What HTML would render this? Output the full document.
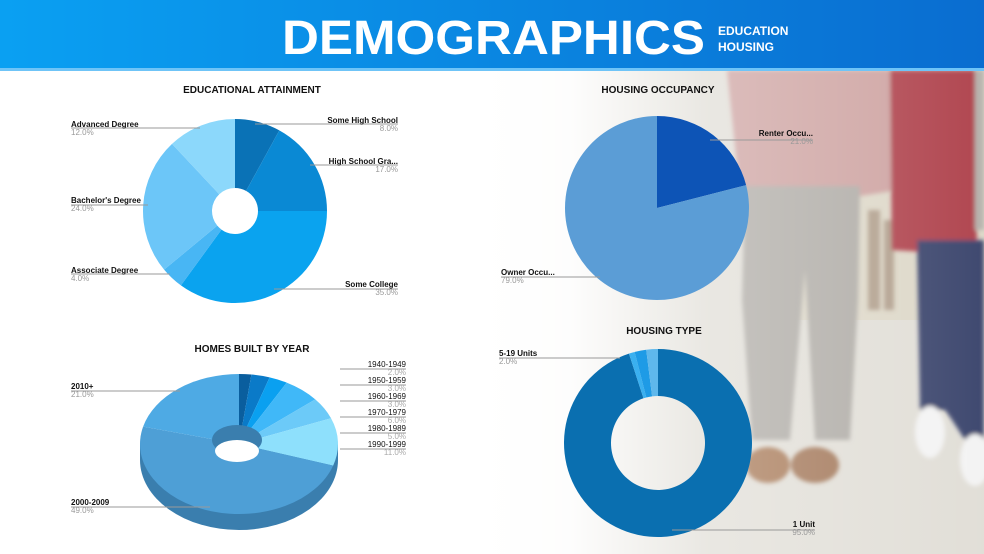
<!DOCTYPE html>
<html><head><meta charset="utf-8"><style>
html,body{margin:0;padding:0;}
body{width:984px;height:554px;overflow:hidden;position:relative;background:#fff;font-family:"Liberation Sans",sans-serif;}
svg{position:absolute;left:0;top:0;}
</style></head><body>
<svg width="984" height="554" viewBox="0 0 984 554" xmlns="http://www.w3.org/2000/svg">
<defs>
<linearGradient id="hdr" x1="0" x2="1" y1="0" y2="0"><stop offset="0" stop-color="#0aa0f2"/><stop offset="1" stop-color="#0a6dd0"/></linearGradient>
<linearGradient id="fade" x1="0" x2="1" y1="0" y2="0">
<stop offset="0" stop-color="#fff" stop-opacity="1"/><stop offset="0.18" stop-color="#fff" stop-opacity="0.95"/><stop offset="0.45" stop-color="#fff" stop-opacity="0.35"/><stop offset="1" stop-color="#fff" stop-opacity="0.1"/></linearGradient>
<filter id="bl"><feGaussianBlur stdDeviation="2"/></filter>
</defs>
<rect x="480" y="70" width="504" height="484" fill="#dedbd3"/>
<rect x="780" y="70" width="204" height="250" fill="#d8d2bc" opacity="0.7"/>
<g filter="url(#bl)">
<rect x="868" y="210" width="12" height="100" fill="#7a5a40" opacity="0.5"/>
<rect x="884" y="220" width="10" height="90" fill="#7a5a40" opacity="0.5"/>
<path d="M727,70 L900,70 L898,190 L860,196 L855,190 L740,195 Z" fill="#c99a98"/>
<path d="M745,186 L860,186 L858,300 L850,440 L815,440 L805,270 L790,440 L752,440 L742,300 Z" fill="#a8a49e"/>
<ellipse cx="768" cy="465" rx="22" ry="18" fill="#a06e4a"/>
<ellipse cx="815" cy="465" rx="24" ry="18" fill="#9a6a48"/>
<path d="M890,70 L975,70 L977,255 L892,250 Z" fill="#a8323e"/>
<path d="M917,240 L984,240 L984,440 L965,440 L952,420 L945,410 L920,410 Z" fill="#2a3560"/>
<ellipse cx="930" cy="432" rx="15" ry="26" fill="#f2f2f2"/>
<ellipse cx="975" cy="460" rx="15" ry="26" fill="#f2f2f2"/>
<rect x="975" y="70" width="9" height="160" fill="#b0aca6"/>
</g>
<rect x="480" y="70" width="504" height="484" fill="url(#fade)"/>
<rect x="0" y="0" width="984" height="70" fill="url(#hdr)"/>
<rect x="0" y="68" width="984" height="3" fill="#6fc4f7"/>
<text x="282" y="54" font-size="48" font-weight="bold" fill="#fff" textLength="423" lengthAdjust="spacingAndGlyphs">DEMOGRAPHICS</text>
<text x="718" y="35" font-size="12" font-weight="bold" fill="#fff">EDUCATION</text>
<text x="718" y="51" font-size="12" font-weight="bold" fill="#fff">HOUSING</text>
<g id="charts"></g>
<g font-size="10" font-weight="bold" fill="#111" text-anchor="middle">
<text x="252" y="93">EDUCATIONAL ATTAINMENT</text>
<text x="658" y="93">HOUSING OCCUPANCY</text>
<text x="252" y="352">HOMES BUILT BY YEAR</text>
<text x="664" y="334">HOUSING TYPE</text>
</g>
<g id="labels" font-size="8"></g>
</svg>
<script>
const NS="http://www.w3.org/2000/svg";
const G=document.getElementById('charts'),L=document.getElementById('labels');
function el(t,a,p){const e=document.createElementNS(NS,t);for(const k in a)e.setAttribute(k,a[k]);(p||G).appendChild(e);return e;}
function pt(cx,cy,rx,ry,a){return [cx+rx*Math.sin(a),cy-ry*Math.cos(a)];}
function donut(cx,cy,rx,ry,ir,iry,data){
 let a=0;const T=2*Math.PI;
 data.forEach(d=>{const b=a+d[0]/100*T;const lg=(b-a)>Math.PI?1:0;
  const p1=pt(cx,cy,rx,ry,a),p2=pt(cx,cy,rx,ry,b);
  let path=`M${p1} A${rx},${ry} 0 ${lg} 1 ${p2} `;
  if(ir>0){const q2=pt(cx,cy,ir,iry,b),q1=pt(cx,cy,ir,iry,a);path+=`L${q2} A${ir},${iry} 0 ${lg} 0 ${q1} Z`;}
  else path+=`L${cx},${cy} Z`;
  el('path',{d:path,fill:d[1]});a=b;});
}
const cx3=239,cy3=444,rx3=99,ry3=70,dep=16;
el('path',{d:`M${cx3-rx3},${cy3} L${cx3-rx3},${cy3+dep} A${rx3},${ry3} 0 0 0 ${cx3+rx3},${cy3+dep} L${cx3+rx3},${cy3} Z`,fill:'#3a7eae'});
donut(235,211,92,92,23,23,[[8,'#0a72b6'],[17,'#0a89d4'],[35,'#0aa3ef'],[4,'#48b6f4'],[24,'#6cc6f8'],[12,'#8cd8fb']]);
donut(657,208,92,92,0,0,[[21,'#0d54b6'],[79,'#5b9dd6']]);
donut(658,443,94,94,47,47,[[95,'#0a6fb0'],[1,'#3ab0f0'],[2,'#1e9be6'],[2,'#5fb8ec']]);
donut(cx3,cy3,rx3,ry3,0,0,[[2,'#0a5e9e'],[3,'#0a7ac8'],[3,'#0aa0f0'],[6,'#40b8f8'],[5,'#6ccaf8'],[11,'#8ee0fc'],[49,'#4e9fd6'],[21,'#4eaae4']]);
el('ellipse',{cx:237,cy:440,rx:25,ry:15,fill:'#3a7eae'});
el('ellipse',{cx:237,cy:451,rx:22,ry:11,fill:'#fff'});
function lab(x,y,t,p,anchor,lx1,lx2,ly){
 el('line',{x1:lx1,y1:ly,x2:lx2,y2:ly,stroke:'#999','stroke-width':1},L);
 el('text',{x,y,'text-anchor':anchor,'font-weight':'bold',fill:'#111'},L).textContent=t;
 el('text',{x,y:y+8,'text-anchor':anchor,fill:'#999'},L).textContent=p;
}
lab(71,127,'Advanced Degree','12.0%','start',71,200,128);
lab(398,123,'Some High School','8.0%','end',255,398,124);
lab(398,164,'High School Gra...','17.0%','end',310,398,165);
lab(71,203,"Bachelor's Degree",'24.0%','start',71,148,205);
lab(71,273,'Associate Degree','4.0%','start',71,170,274);
lab(398,287,'Some College','35.0%','end',274,398,289);
lab(813,136,'Renter Occu...','21.0%','end',710,813,140);
lab(501,275,'Owner Occu...','79.0%','start',501,600,277);
lab(499,356,'5-19 Units','2.0%','start',499,620,358);
lab(815,527,'1 Unit','95.0%','end',672,815,530);
lab(71,389,'2010+','21.0%','start',71,180,391);
lab(71,505,'2000-2009','49.0%','start',71,210,507);
const yl=[['1940-1949','2.0%',367],['1950-1959','3.0%',383],['1960-1969','3.0%',399],['1970-1979','6.0%',415],['1980-1989','5.0%',431],['1990-1999','11.0%',447]];
yl.forEach(r=>{el('text',{x:406,y:r[2],'text-anchor':'end',fill:'#111'},L).textContent=r[0];el('text',{x:406,y:r[2]+8,'text-anchor':'end',fill:'#aaa'},L).textContent=r[1];
 el('line',{x1:340,y1:r[2]+2,x2:406,y2:r[2]+2,stroke:'#999','stroke-width':1},L);});
</script>
</body></html>
